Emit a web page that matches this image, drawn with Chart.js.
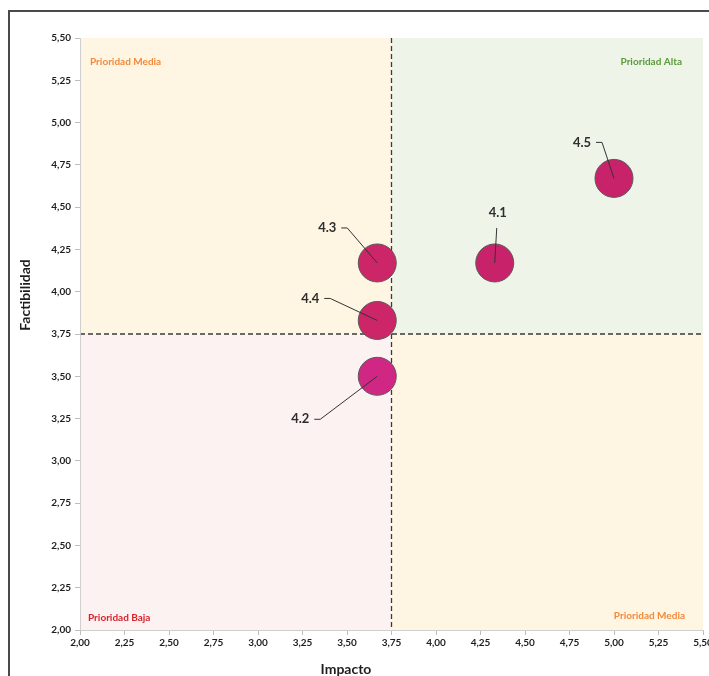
<!DOCTYPE html>
<html>
<head>
<meta charset="utf-8">
<script src="https://cdn.jsdelivr.net/npm/chart.js@4"></script>
<style>
  html, body { margin: 0; padding: 0; background: #fff; overflow: hidden; }
  #frame { position: absolute; left: 8px; top: 10px; width: 760px; height: 720px; border: 2px solid #4a4a4a; box-sizing: border-box; }
  #wrap { position: absolute; left: 0; top: 0; width: 709px; height: 676px; overflow: hidden; }
</style>
</head>
<body>
<div id="frame"></div>
<div id="wrap"><canvas id="chart" width="723" height="676"></canvas></div>
<script>
(function () {
    // data
    const pointLabels = ['4.1', '4.2', '4.3', '4.4', '4.5'];
    const impacto = [4.33, 3.67, 3.67, 3.67, 5.00];
    const factibilidad = [4.17, 3.50, 4.17, 3.83, 4.67];
    const axisMin = 2.0;
    const axisMax = 5.5;
    const tickStep = 0.25;
    const threshold = 3.75;
    const quadrantNames = ['Prioridad Media', 'Prioridad Alta', 'Prioridad Baja', 'Prioridad Media'];
    const xTitle = 'Impacto';
    const yTitle = 'Factibilidad';

    // label placement (px from bubble centre) and colours
    const labelOffsets = [[3, -50], [-77, 43], [-50, -35], [-67, -22], [-32, -36]];
    const bubbleColors = ['#c8226a', '#d02684', '#cc2568', '#cc2568', '#c8226a'];

    const fmt = (v) => Number(v).toFixed(2).replace('.', ',');
    const fontFamily = 'Lato, "Open Sans", sans-serif';

    const quadrants = {
        id: 'quadrants',
        beforeDraw(chart) {
            const { ctx, chartArea: a, scales } = chart;
            const mx = scales.x.getPixelForValue(threshold);
            const my = scales.y.getPixelForValue(threshold);
            ctx.save();
            ctx.fillStyle = '#fef5e2';
            ctx.fillRect(a.left, a.top, mx - a.left, my - a.top);
            ctx.fillStyle = '#eef5e8';
            ctx.fillRect(mx, a.top, a.right - mx, my - a.top);
            ctx.fillStyle = '#fdf2f2';
            ctx.fillRect(a.left, my, mx - a.left, a.bottom - my);
            ctx.fillStyle = '#fef5e2';
            ctx.fillRect(mx, my, a.right - mx, a.bottom - my);

            ctx.font = 'bold 10px ' + fontFamily;
            ctx.textBaseline = 'middle';
            ctx.fillStyle = '#f28a3c';
            ctx.textAlign = 'left';
            ctx.fillText(quadrantNames[0], a.left + 10, a.top + 24);
            ctx.fillStyle = '#5a9a3a';
            ctx.textAlign = 'right';
            ctx.fillText(quadrantNames[1], a.right - 21, a.top + 24);
            ctx.fillStyle = '#d9232c';
            ctx.textAlign = 'left';
            ctx.fillText(quadrantNames[2], a.left + 8, a.bottom - 12);
            ctx.fillStyle = '#f28a3c';
            ctx.textAlign = 'right';
            ctx.fillText(quadrantNames[3], a.right - 18, a.bottom - 14);

            ctx.strokeStyle = '#3a3a3a';
            ctx.lineWidth = 1.3;
            ctx.setLineDash([5, 3]);
            ctx.beginPath();
            ctx.moveTo(mx, a.top);
            ctx.lineTo(mx, a.bottom);
            ctx.moveTo(a.left, my);
            ctx.lineTo(a.right, my);
            ctx.stroke();
            ctx.restore();

            // axis titles (offset from the plot centre as in the original)
            ctx.save();
            ctx.font = 'bold 14px ' + fontFamily;
            ctx.fillStyle = '#1e1e1e';
            ctx.textAlign = 'center';
            ctx.textBaseline = 'middle';
            ctx.fillText(xTitle, a.left + 266, a.bottom + 39);
            ctx.translate(a.left - 55, a.top + 257);
            ctx.rotate(-Math.PI / 2);
            ctx.fillText(yTitle, 0, 0);
            ctx.restore();
        }
    };

    const leaders = {
        id: 'leaders',
        afterDatasetsDraw(chart) {
            const { ctx } = chart;
            const meta = chart.getDatasetMeta(0);
            ctx.save();
            ctx.font = 'bold 13px ' + fontFamily;
            ctx.textAlign = 'center';
            ctx.textBaseline = 'middle';
            meta.data.forEach((el, i) => {
                const [dx, dy] = labelOffsets[i];
                const lx = el.x + dx;
                const ly = el.y + dy;
                ctx.strokeStyle = '#333';
                ctx.lineWidth = 1;
                ctx.beginPath();
                if (Math.abs(dx) < 10) {
                    ctx.moveTo(lx - 1, ly + 15);
                    ctx.lineTo(el.x, el.y);
                } else {
                    const sx = lx + 14;
                    ctx.moveTo(sx, ly);
                    ctx.lineTo(sx + 6, ly);
                    ctx.lineTo(el.x, el.y);
                }
                ctx.stroke();
                ctx.fillStyle = '#2e2e2e';
                ctx.fillText(pointLabels[i], lx, ly);
            });
            ctx.restore();
        }
    };

    const tickFont = { family: fontFamily, size: 10, weight: 'bold' };

    new Chart(document.getElementById('chart'), {
        type: 'bubble',
        data: {
            datasets: [{
                data: impacto.map((x, i) => ({ x: x, y: factibilidad[i], r: 19 })),
                backgroundColor: bubbleColors,
                borderColor: '#5a5a5a',
                borderWidth: 1,
            }]
        },
        options: {
            responsive: false,
            animation: false,
            layout: { padding: { top: 38, right: 6, left: 0, bottom: 0 } },
            plugins: {
                legend: { display: false },
                tooltip: { enabled: false },
            },
            scales: {
                x: {
                    type: 'linear',
                    min: axisMin,
                    max: axisMax,
                    ticks: { stepSize: tickStep, callback: fmt, font: tickFont, color: '#1e1e1e', padding: 2, maxRotation: 0, autoSkip: false },
                    grid: { drawOnChartArea: false, tickLength: 5, color: '#bdbdbd' },
                    border: { color: '#cfcfcf' },
                    afterFit(scale) { scale.height = 46; scale.paddingLeft = 0; scale.paddingRight = 0; },
                },
                y: {
                    type: 'linear',
                    min: axisMin,
                    max: axisMax,
                    ticks: { stepSize: tickStep, callback: fmt, font: tickFont, color: '#1e1e1e', padding: 4 },
                    grid: { drawOnChartArea: false, tickLength: 5, color: '#bdbdbd' },
                    border: { color: '#cfcfcf' },
                    afterFit(scale) { scale.width = 80; scale.paddingTop = 0; scale.paddingBottom = 0; },
                }
            }
        },
        plugins: [quadrants, leaders]
    });
})();
</script>
</body>
</html>
